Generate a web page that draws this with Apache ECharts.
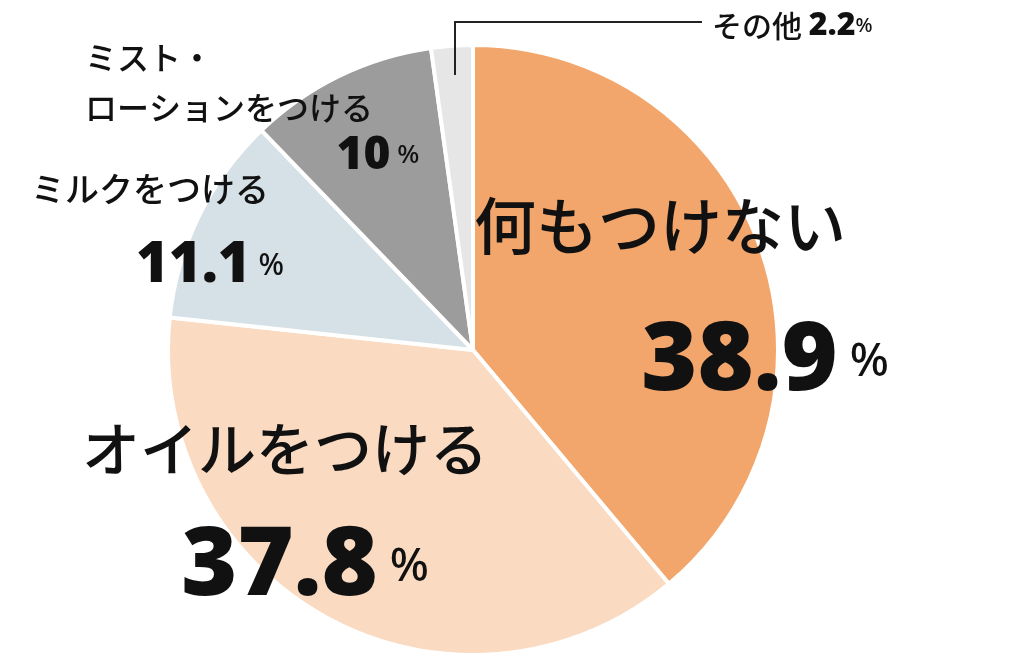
<!DOCTYPE html>
<html><head><meta charset="utf-8">
<script src="https://cdn.jsdelivr.net/npm/echarts@6/dist/echarts.min.js"></script>
<style>html,body{margin:0;background:#fff}#c{width:1024px;height:662px}</style>
</head><body><div id="c"></div>
<script>
const categories = ['何もつけない','オイルをつける','ミルクをつける','ミスト・\nローションをつける','その他'];
const values = [38.9, 37.8, 11.1, 10, 2.2];
const colors = ['#F2A66B','#FADBC2','#D6E1E7','#9C9C9C','#E6E6E6'];
const F = '"Noto Sans CJK JP", sans-serif';
const N = '"Noto Sans", "DejaVu Sans", sans-serif';
const chart = echarts.init(document.getElementById('c'));
const gr = [
    {type:'text',x:660,y:195,style:{text:categories[0],font:`500 62px ${F}`,fill:'#111',textAlign:'center'}},
    {type:'text',x:765,y:315,style:{text:`{a|${values[0]}}{b| %}`,textAlign:'center',rich:{a:{font:`900 96px ${N}`,fill:'#111'},b:{font:`500 46px ${N}`,fill:'#111'}}}},
    {type:'text',x:285,y:420,style:{text:categories[1],font:`500 58px ${F}`,fill:'#111',textAlign:'center'}},
    {type:'text',x:305,y:520,style:{text:`{a|${values[1]}}{b| %}`,textAlign:'center',rich:{a:{font:`900 96px ${N}`,fill:'#111'},b:{font:`500 46px ${N}`,fill:'#111'}}}},
    {type:'text',x:150,y:172,style:{text:categories[2],font:`500 34px ${F}`,fill:'#111',textAlign:'center'}},
    {type:'text',x:210,y:238,style:{text:`{a|${values[2]}}{b| %}`,textAlign:'center',rich:{a:{font:`900 56px ${N}`,fill:'#111'},b:{font:`500 30px ${N}`,fill:'#111'}}}},
    {type:'text',x:85,y:33,style:{text:categories[3],font:`500 32px ${F}`,fill:'#111',textAlign:'left',lineHeight:50}},
    {type:'text',x:378,y:133,style:{text:`{a|${values[3]}}{b| %}`,textAlign:'center',rich:{a:{font:`900 46px ${N}`,fill:'#111'},b:{font:`500 26px ${N}`,fill:'#111'}}}},
    {type:'text',x:712,y:10,style:{text:`{n|${categories[4]} }{a|${values[4]}}{b|%}`,textAlign:'left',rich:{n:{font:`500 30px ${F}`,fill:'#111'},a:{font:`900 32px ${N}`,fill:'#111'},b:{font:`500 20px ${N}`,fill:'#111'}}}},
    {type:'polyline',shape:{points:[[455,75],[455,22],[702,22]]},style:{stroke:'#222',lineWidth:2,fill:null}}
];
gr.forEach(e=>{e.z=100;e.zlevel=1;});
chart.setOption({
  animation:false,
  series:[{type:'pie',center:[473,350],radius:[0,305],startAngle:90,clockwise:true,
    label:{show:false},labelLine:{show:false},
    itemStyle:{borderColor:'#fff',borderWidth:4},
    data:categories.map((n,i)=>({name:n,value:values[i],itemStyle:{color:colors[i]}}))}],
  graphic:gr
});
</script></body></html>
